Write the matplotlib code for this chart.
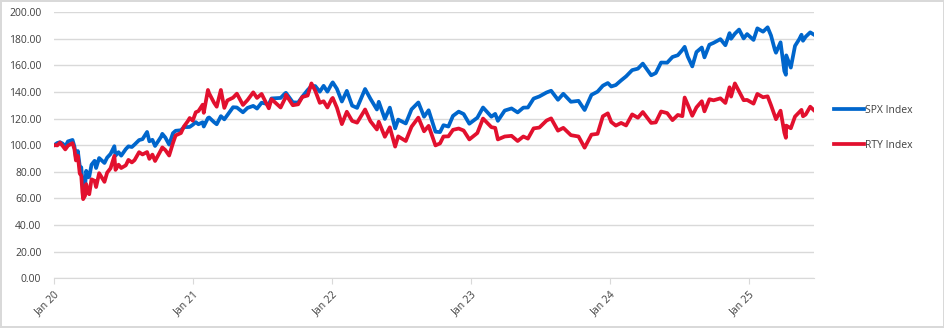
import matplotlib.pyplot as plt
import matplotlib.dates as mdates
import pandas as pd

plt.rcParams['font.family'] = ['Open Sans', 'DejaVu Sans']

# Rebased index levels (start = 100)
dates = [
    "2020-01-02", "2020-01-10", "2020-01-17", "2020-01-24", "2020-01-31", "2020-02-07",
    "2020-02-19", "2020-02-24", "2020-02-28", "2020-03-04", "2020-03-09", "2020-03-13",
    "2020-03-16", "2020-03-18", "2020-03-23", "2020-03-26", "2020-04-01", "2020-04-03",
    "2020-04-09", "2020-04-17", "2020-04-21", "2020-04-29", "2020-05-13", "2020-05-20",
    "2020-05-29", "2020-06-08", "2020-06-11", "2020-06-19", "2020-06-26", "2020-07-08",
    "2020-07-15", "2020-07-24", "2020-07-31", "2020-08-12", "2020-08-21", "2020-09-02",
    "2020-09-08", "2020-09-16", "2020-09-23", "2020-10-09", "2020-10-12", "2020-10-20",
    "2020-10-30", "2020-11-09", "2020-11-16", "2020-11-30", "2020-12-08", "2020-12-18",
    "2020-12-23", "2020-12-31", "2021-01-08", "2021-01-15", "2021-01-26", "2021-01-29",
    "2021-02-09", "2021-02-12", "2021-02-25", "2021-03-04", "2021-03-15", "2021-03-24",
    "2021-04-01", "2021-04-16", "2021-04-26", "2021-05-12", "2021-05-24", "2021-06-08",
    "2021-06-18", "2021-06-30", "2021-07-19", "2021-07-26", "2021-08-19", "2021-08-31",
    "2021-09-02", "2021-09-20", "2021-10-04", "2021-10-15", "2021-10-29", "2021-11-08",
    "2021-11-18", "2021-11-30", "2021-12-10", "2021-12-20", "2021-12-31", "2022-01-03",
    "2022-01-14", "2022-01-27", "2022-02-09", "2022-02-23", "2022-03-08", "2022-03-29",
    "2022-04-12", "2022-04-29", "2022-05-04", "2022-05-20", "2022-06-02", "2022-06-16",
    "2022-06-24", "2022-07-14", "2022-07-29", "2022-08-16", "2022-08-31", "2022-09-12",
    "2022-09-30", "2022-10-12", "2022-10-21", "2022-11-03", "2022-11-15", "2022-11-30",
    "2022-12-13", "2022-12-28", "2023-01-18", "2023-02-02", "2023-02-24", "2023-03-06",
    "2023-03-13", "2023-03-31", "2023-04-18", "2023-05-04", "2023-05-19", "2023-05-31",
    "2023-06-15", "2023-06-30", "2023-07-19", "2023-07-31", "2023-08-18", "2023-09-01",
    "2023-09-21", "2023-10-11", "2023-10-27", "2023-11-14", "2023-11-30", "2023-12-14",
    "2023-12-27", "2024-01-05", "2024-01-17", "2024-01-31", "2024-02-13", "2024-02-29",
    "2024-03-15", "2024-03-28", "2024-04-19", "2024-05-01", "2024-05-15", "2024-05-31",
    "2024-06-14", "2024-06-28", "2024-07-10", "2024-07-16", "2024-07-24", "2024-08-05",
    "2024-08-16", "2024-08-30", "2024-09-06", "2024-09-19", "2024-09-30", "2024-10-18",
    "2024-10-31", "2024-11-11", "2024-11-15", "2024-11-25", "2024-12-06", "2024-12-18",
    "2024-12-27", "2025-01-13", "2025-01-23", "2025-02-07", "2025-02-19", "2025-02-28",
    "2025-03-10", "2025-03-13", "2025-03-25", "2025-04-04", "2025-04-08", "2025-04-09",
    "2025-04-21", "2025-05-02", "2025-05-13", "2025-05-19", "2025-05-23", "2025-05-30",
    "2025-06-11", "2025-06-20",
]

spx = [
    100.0, 101.6, 102.2, 101.2, 99.0, 102.8,
    103.9, 99.0, 90.7, 95.6, 84.3, 83.3,
    73.2, 73.7, 68.7, 80.7, 75.8, 76.3,
    85.3, 88.2, 82.8, 90.3, 86.6, 90.6,
    93.4, 99.2, 92.1, 94.7, 92.1, 97.0,
    99.1, 98.6, 100.4, 103.8, 104.5, 109.9,
    102.9, 104.0, 99.4, 106.4, 108.5, 105.7,
    100.4, 109.0, 110.8, 111.2, 113.6, 113.6,
    113.7, 115.3, 117.3, 115.7, 117.2, 114.0,
    120.4, 120.8, 117.3, 115.7, 121.8, 119.4,
    122.6, 128.5, 128.3, 124.7, 128.0, 129.5,
    127.5, 131.9, 130.7, 135.1, 135.5, 139.0,
    139.3, 132.2, 132.0, 136.4, 141.4, 144.4,
    144.4, 140.2, 144.6, 140.2, 146.0, 147.2,
    142.3, 132.8, 140.8, 129.7, 128.0, 142.2,
    134.9, 126.8, 132.6, 119.7, 128.2, 112.6,
    119.2, 116.3, 126.9, 132.1, 121.4, 126.2,
    110.1, 109.8, 115.0, 114.0, 122.0, 125.2,
    123.4, 116.1, 120.6, 128.3, 121.4, 123.5,
    118.3, 126.0, 127.6, 124.6, 128.2, 128.3,
    135.0, 136.6, 139.6, 140.9, 134.1, 138.6,
    132.6, 133.3, 126.4, 137.8, 140.2, 144.7,
    146.7, 144.1, 145.2, 148.7, 151.7, 156.4,
    157.5, 161.3, 152.5, 154.2, 162.1, 162.0,
    166.3, 167.6, 171.6, 173.9, 166.6, 159.2,
    170.0, 173.4, 166.0, 175.5, 176.9, 179.7,
    175.1, 184.2, 180.0, 183.8, 186.9, 180.2,
    183.5, 179.1, 187.8, 185.3, 188.6, 182.4,
    171.7, 169.5, 177.3, 155.7, 152.9, 167.5,
    158.3, 174.6, 179.6, 183.0, 178.5, 181.5,
    184.8, 183.2,
]

rty = [
    100.0, 99.8, 101.9, 99.5, 96.8, 99.6,
    101.5, 97.0, 88.5, 92.0, 78.7, 77.0,
    64.6, 59.4, 62.0, 70.7, 63.7, 63.1,
    74.3, 73.2, 68.5, 78.9, 72.4, 79.3,
    82.6, 91.9, 81.4, 85.3, 82.8, 84.8,
    88.9, 87.0, 88.7, 94.7, 93.0, 94.8,
    89.7, 92.9, 88.1, 96.5, 98.3, 96.3,
    92.2, 101.5, 107.3, 109.1, 114.1, 118.0,
    120.4, 118.4, 124.7, 125.6, 130.4, 124.3,
    141.5, 139.0, 131.9, 128.9, 141.5, 128.0,
    133.6, 135.7, 138.7, 130.2, 133.9, 139.7,
    135.5, 138.5, 127.7, 134.6, 128.3, 135.3,
    137.9, 130.0, 130.7, 136.2, 137.3, 146.4,
    140.9, 131.8, 133.0, 128.3, 134.6, 135.5,
    128.1, 115.8, 125.1, 118.2, 116.9, 126.8,
    118.0, 111.8, 117.6, 106.3, 113.4, 98.9,
    106.6, 103.1, 113.8, 120.7, 110.4, 114.5,
    99.8, 101.3, 106.5, 106.6, 111.5, 112.5,
    111.0, 104.3, 109.1, 120.0, 113.5, 113.0,
    104.3, 106.5, 107.0, 103.1, 106.5, 104.9,
    112.6, 113.2, 118.5, 120.1, 110.9, 113.0,
    107.5, 106.5, 98.1, 107.9, 108.5, 121.7,
    123.9, 117.4, 114.7, 116.7, 114.8, 123.1,
    120.6, 124.9, 116.7, 117.1, 125.3, 124.1,
    118.8, 122.7, 121.8, 135.8, 130.5, 122.1,
    128.4, 133.0, 125.4, 134.5, 133.7, 135.2,
    131.7, 143.5, 136.5, 146.4, 140.3, 133.8,
    134.0, 131.2, 138.5, 136.0, 136.7, 130.0,
    122.0, 119.5, 125.9, 109.4, 105.5, 114.7,
    112.7, 121.5, 124.7, 126.5, 121.7, 123.0,
    128.9, 126.4,
]

series_names = ["SPX Index", "RTY Index"]
x = pd.to_datetime(dates)

fig = plt.figure(figsize=(9.45, 3.28), dpi=100)
fig.patch.set_edgecolor('#d9d9d9')
fig.patch.set_linewidth(1.5)
ax = fig.add_axes([0.057, 0.152, 0.804, 0.811])

ax.plot(x, spx, color='#0066cc', lw=2.7, label=series_names[0])
ax.plot(x, rty, color='#e2102e', lw=2.7, label=series_names[1])

ax.set_ylim(0, 200)
ax.set_yticks(range(0, 201, 20))
ax.yaxis.set_major_formatter(plt.FuncFormatter(lambda v, p: f"{v:.2f}"))
ax.set_xlim(pd.Timestamp("2020-01-01"), x[-1])
ax.xaxis.set_major_locator(mdates.YearLocator())
ax.xaxis.set_major_formatter(mdates.DateFormatter('%b %y'))

ax.grid(axis='y', color='#d9d9d9', lw=1)
ax.set_axisbelow(True)
for s in ['top', 'right', 'left']:
    ax.spines[s].set_visible(False)
ax.spines['bottom'].set_color('#d9d9d9')
ax.tick_params(axis='y', length=0, labelsize=7.5, labelcolor='#404040', pad=9)
ax.tick_params(axis='x', length=4, color='#d9d9d9', labelsize=7.5, labelcolor='#404040')
plt.setp(ax.get_xticklabels(), rotation=45, ha='right', rotation_mode='anchor')

fig.legend(loc='center left', bbox_to_anchor=(0.873, 0.61), frameon=False,
           fontsize=7.5, handlelength=2.8, handletextpad=0.1, labelspacing=2.3,
           labelcolor='#404040')

fig.savefig('out.png', dpi=100)
